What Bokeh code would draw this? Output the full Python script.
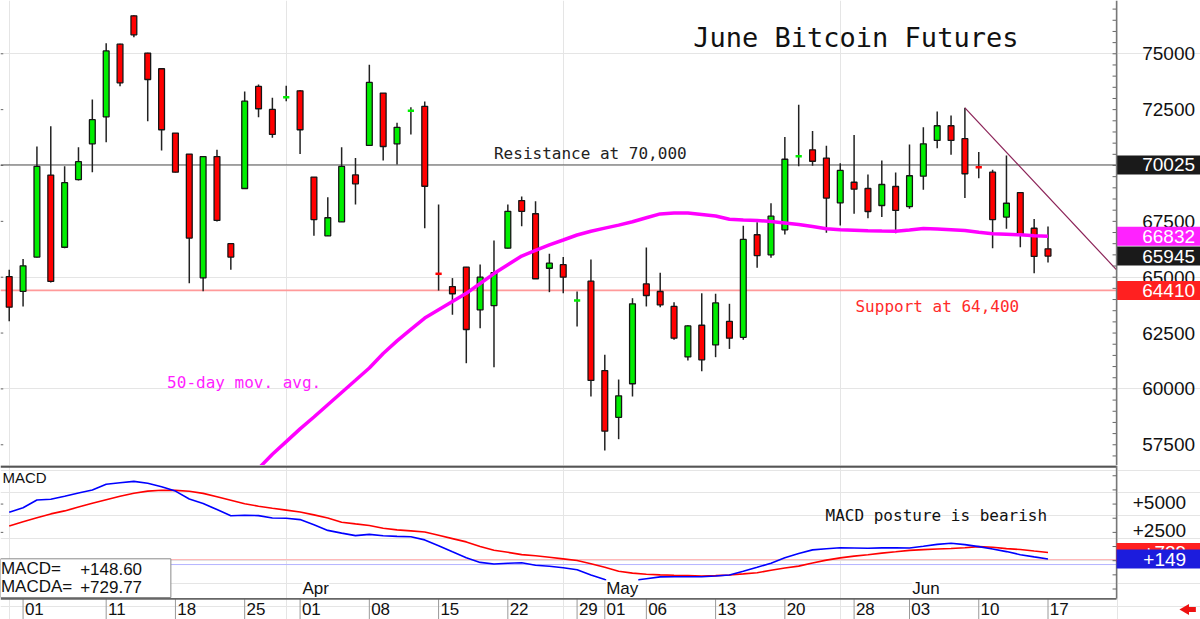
import numpy as np
from bokeh.plotting import figure
from bokeh.models import Range1d, Span
from bokeh.layouts import column
from bokeh.embed import file_html
from bokeh.resources import INLINE
from bokeh.core.properties import value

# ---------------- data ----------------
# trading days Feb 29 .. Jun 17 (index 0 .. 75)
opens = [65030, 64370, 65900, 69570, 66340, 69370, 70970, 72180, 75430, 76700,
         75030, 74330, 71450, 70510, 64970, 70400, 66500, 68970, 73540, 72510,
         73050, 73340, 69480, 66850, 67480, 69580, 70900, 73240, 70970, 72440,
         72650, 65160, 64580, 65450, 63540, 63730, 66300, 68430, 67840, 65400,
         65560, 63950, 64820, 60820, 58730, 60230, 64700, 64360, 63690, 61430,
         62850, 61970, 63020, 62310, 66900, 66000, 67120, 70410, 70700, 70330,
         68330, 69250, 68970, 68210, 69060, 68160, 69520, 71120, 71780, 71200,
         69930, 69700, 67690, 68790, 67190, 66270]
highs = [65330, 65810, 70850, 71760, 69970, 70820, 72950, 75470, 75450, 76720,
         75050, 74350, 71460, 70520, 70410, 70700, 66510, 73310, 73630, 73030,
         73570, 73380, 69490, 68580, 70820, 70340, 74510, 73250, 71910, 72610,
         72860, 68250, 64960, 65460, 65570, 66640, 68250, 68610, 68400, 66050,
         65900, 64360, 65790, 61530, 60420, 64060, 66330, 65200, 63880, 62850,
         64280, 64260, 63810, 67300, 67460, 68310, 71270, 72720, 71540, 70880,
         70100, 71360, 69600, 70220, 69690, 70940, 71710, 72420, 72240, 72580,
         70600, 69810, 70450, 68800, 67600, 67270]
lows = [63030, 63690, 65880, 64760, 66300, 69330, 69700, 71040, 73550, 75740,
        71980, 70670, 69690, 64730, 64370, 67490, 65330, 68950, 72160, 71240,
        72880, 70520, 66850, 66840, 67470, 68250, 70880, 70220, 70040, 71390,
        67190, 64400, 63320, 61150, 62720, 60970, 66290, 67280, 64920, 64330,
        64280, 62790, 59660, 57240, 57750, 59660, 63690, 63660, 62200, 61270,
        60790, 61420, 61790, 62200, 65420, 65870, 66910, 69970, 69990, 66990,
        67310, 67840, 67640, 67690, 66970, 68060, 68910, 70770, 70480, 68540,
        69430, 66300, 67170, 66340, 65180, 65660]
closes = [63660, 65510, 69960, 64810, 69230, 70170, 72050, 75130, 73700, 75850,
          73850, 71600, 69700, 66750, 70400, 67540, 65900, 72880, 72540, 71390,
          73065, 71600, 67580, 67660, 69960, 69180, 73720, 70850, 71710, 72455,
          69070, 65145, 64260, 62660, 65000, 65200, 67950, 67950, 64930, 65630,
          65000, 63965, 60380, 58110, 59690, 63810, 64180, 63760, 62270, 62820,
          61300, 63850, 62270, 66690, 65970, 67730, 70280, 70425, 70190, 68540,
          69780, 68940, 67940, 69150, 67990, 69540, 70970, 71780, 71120, 69630,
          69915, 67580, 68310, 66900, 65930, 65945]

ma50_first_index = 18
ma50 = [56440, 57073, 57641, 58210, 58742, 59293, 59839, 60385, 60935, 61585,
        62149, 62668, 63169, 63541, 63912, 64279, 64718, 65162, 65559, 65948,
        66204, 66445, 66665, 66889, 67059, 67198, 67332, 67484, 67659, 67833,
        67873, 67873, 67806, 67739, 67592, 67565, 67542, 67493, 67430, 67359,
        67269, 67170, 67121, 67103, 67076, 67063, 67059, 67117, 67180, 67153,
        67121, 67090, 67010, 66942, 66920, 66898, 66857, 66832]

macd = [4283, 4671, 5360, 5430, 5695, 5978, 6243, 6755, 6887, 7002,
        6843, 6525, 6146, 5448, 5042, 4512, 3974, 4009, 3982, 3770,
        3753, 3629, 3170, 2675, 2437, 2216, 2322, 2208, 2146, 2119,
        1837, 1325, 786, 256, -150, -291, -230, -185, -397, -494,
        -627, -795, -1263, -1660, -1792, -1748, -1589, -1430, -1413, -1413,
        -1413, -1351, -1263, -936, -583, -221, 256, 627, 954, 1060,
        1148, 1121, 1095, 1130, 1130, 1121, 1272, 1439, 1536, 1422,
        1245, 1033, 804, 530, 336, 148.60]
macd_avg = [3073, 3435, 3788, 4132, 4397, 4733, 5068, 5386, 5687, 5951,
            6146, 6216, 6207, 6128, 5943, 5651, 5342, 5024, 4812, 4636,
            4468, 4300, 4044, 3770, 3391, 3249, 3108, 2861, 2720, 2631,
            2534, 2243, 1951, 1660, 1263, 918, 742, 539, 442, 300,
            159, 18, -274, -583, -936, -1095, -1192, -1254, -1289, -1316,
            -1351, -1316, -1263, -1166, -1060, -848, -645, -477, -203, 53,
            247, 406, 521, 671, 786, 909, 980, 1033, 1077, 1148,
            1245, 1183, 1068, 989, 857, 729.77]

resistance_level = 70025
support_level = 64410
trend_index = [69, 79.95]
trend_price = [72580, 65330]

price_tick_labels = [57500, 60000, 62500, 65000, 67500, 70000, 72500, 75000]
value_boxes = [70025, 66832, 65945, 64410]
value_box_colors = ["#1a1a1a", "#ff22ff", "#1a1a1a", "#ff2020"]

macd_tick_labels = [2500, 5000]
macd_ref_levels = [100, -340]
macd_boxes = [729.77, 148.60]
macd_box_text = ["+729", "+149"]
macd_box_colors = ["#ff2020", "#1c1cdd"]

date_tick_index = [1, 7, 12, 17, 21, 26, 31, 36, 41, 43, 46, 51, 56, 61, 65, 70, 75]
date_tick_labels = ["01", "11", "18", "25", "01", "08", "15", "22", "29", "01",
                    "06", "13", "20", "28", "03", "10", "17"]
month_index = [21.17, 43.1, 65.2]
month_labels = ["Apr", "May", "Jun"]

# ---------------- layout constants ----------------
X0, X1 = -0.63, 86.01          # full canvas width in day units
AXIS_X = 79.95                 # right axis line
GREEN, RED = "#00ee00", "#ff0000"
SANS = value("Liberation Sans")
MONO = value("DejaVu Sans Mono")

xr = Range1d(X0, X1)


def base_fig(h, yr):
    f = figure(width=1200, height=h, x_range=xr, y_range=yr,
               output_backend="svg", toolbar_location=None,
               x_axis_location=None, y_axis_location=None, min_border=0)
    f.outline_line_color = None
    f.background_fill_color = "white"
    f.border_fill_color = "white"
    return f


# ---------------- main price panel ----------------
p1 = base_fig(465, Range1d(56572, 77385))

o, h, l, c = (np.array(a, dtype=float) for a in (opens, highs, lows, closes))
idx = np.arange(len(o))
up = c >= o
doji = np.abs(c - o) < 30
body = ~doji
cols = np.where(up, GREEN, RED)

# reference lines
p1.segment(x0=[X0], y0=[resistance_level], x1=[AXIS_X], y1=[resistance_level],
           line_color="#555555", line_width=1)
p1.segment(x0=[X0], y0=[support_level], x1=[AXIS_X], y1=[support_level],
           line_color="#ff9a9a", line_width=1.6)

# wicks and bodies
p1.segment(x0=idx, y0=l, x1=idx, y1=h, line_color="#222222", line_width=1.5)
p1.quad(left=idx[body] - 0.21, right=idx[body] + 0.21,
        top=np.maximum(o, c)[body], bottom=np.minimum(o, c)[body],
        fill_color=cols[body], line_color="#151515", line_width=1.3)
p1.rect(x=idx[doji], y=((o + c) / 2)[doji], width=0.45, height=2.5,
        height_units="screen", fill_color=cols[doji], line_color=None)

# moving average
ma_idx = np.arange(ma50_first_index, ma50_first_index + len(ma50))
p1.line(ma_idx, ma50, line_color="#ff00ff", line_width=3.5)

# trend line
p1.line(trend_index, trend_price, line_color="#8b2257", line_width=1.2)

# annotations
p1.text(x=[49.39], y=[75751], text=["June Bitcoin Futures"], text_font=MONO,
        text_font_size="27px", text_color="#111111", text_baseline="middle")
p1.text(x=[35.0], y=[70559], text=["Resistance at 70,000"], text_font=MONO,
        text_font_size="16px", text_color="#222222", text_baseline="middle")
p1.text(x=[61.1], y=[63697], text=["Support at 64,400"], text_font=MONO,
        text_font_size="16px", text_color="#ff2a2a", text_baseline="middle")
p1.text(x=[11.4], y=[60278], text=["50-day mov. avg."], text_font=MONO,
        text_font_size="16px", text_color="#ff22ff", text_baseline="middle")

# right axis
p1.add_layout(Span(location=AXIS_X, dimension="height", line_color="#777777", line_width=1.5))
minor = np.arange(57000, 77001, 500)
p1.segment(x0=np.full(len(minor), AXIS_X - 0.29), y0=minor,
           x1=np.full(len(minor), AXIS_X), y1=minor, line_color="#666666", line_width=1)
major = np.arange(57500, 75001, 2500)
p1.segment(x0=np.full(len(major), X0), y0=major,
           x1=np.full(len(major), X0 + 0.2), y1=major, line_color="#666666", line_width=1)
p1.text(x=np.full(len(price_tick_labels), 81.8), y=price_tick_labels,
        text=[str(v) for v in price_tick_labels], text_font=SANS,
        text_font_size="19px", text_color="#111111", text_baseline="middle")
p1.rect(x=np.full(len(value_boxes), (AXIS_X + X1) / 2), y=value_boxes,
        width=X1 - AXIS_X, height=19, height_units="screen",
        fill_color=value_box_colors, line_color=None)
p1.text(x=np.full(len(value_boxes), 81.8), y=value_boxes,
        text=[str(v) for v in value_boxes], text_font=SANS,
        text_font_size="19px", text_color="white", text_baseline="middle")

# ---------------- MACD panel + date row (one canvas, two y scales) ----------------
p2 = base_fig(154, Range1d(-5192, 8406))
p2.extra_y_ranges = {"row": Range1d(0, 154)}   # row units: pixels above the bottom edge

p2.segment(x0=np.full(2, X0), y0=macd_ref_levels, x1=np.full(2, AXIS_X), y1=macd_ref_levels,
           line_color=["#ffb4b4", "#b4b4ff"], line_width=1)
p2.line(idx, macd_avg, line_color="#ff0000", line_width=1.6)
p2.line(idx, macd, line_color="#0000ff", line_width=1.6)

# top border (bottom of price panel)
p2.segment(x0=[X0], y0=[8318], x1=[AXIS_X], y1=[8318], line_color="#555555", line_width=2.5)

# right axis of the MACD panel
p2.segment(x0=[AXIS_X], y0=[21], x1=[AXIS_X], y1=[154], y_range_name="row",
           line_color="#777777", line_width=1.5)
mt = np.arange(-2500, 7501, 1250)
p2.segment(x0=np.full(len(mt), AXIS_X - 0.29), y0=mt, x1=np.full(len(mt), AXIS_X), y1=mt,
           line_color="#666666", line_width=1)
p2.segment(x0=np.full(2, X0), y0=macd_tick_labels, x1=np.full(2, X0 + 0.2), y1=macd_tick_labels,
           line_color="#666666", line_width=1)
p2.text(x=np.full(2, 84.97), y=macd_tick_labels, text=["+%d" % v for v in macd_tick_labels],
        text_font=SANS, text_font_size="19px", text_color="#111111",
        text_baseline="middle", text_align="right", y_offset=-2)

p2.rect(x=[(AXIS_X + X1) / 2], y=[macd_boxes[0]], width=X1 - AXIS_X, height=19,
        height_units="screen", fill_color=macd_box_colors[0], line_color=None)
p2.text(x=[84.97], y=[macd_boxes[0]], text=[macd_box_text[0]], text_font=SANS,
        text_font_size="19px", text_color="white", text_baseline="middle", text_align="right")
p2.rect(x=[(AXIS_X + X1) / 2], y=[macd_boxes[1]], width=X1 - AXIS_X, height=19,
        height_units="screen", fill_color=macd_box_colors[1], line_color=None)
p2.text(x=[84.97], y=[macd_boxes[1]], text=[macd_box_text[1]], text_font=SANS,
        text_font_size="19px", text_color="white", text_baseline="middle", text_align="right")

# value box at lower left
p2.quad(left=[X0], right=[11.67], top=[168], bottom=[-3250],
        fill_color="white", line_color="#8a8a8a", line_width=1)
p2.text(x=[-0.6, -0.6], y=[-689, -2305], text=["MACD=", "MACDA="], text_font=SANS,
        text_font_size="17px", text_color="#111111", text_baseline="middle")
p2.text(x=[5.12, 5.12], y=[-689, -2305], text=["%+.2f" % macd[-1], "%+.2f" % macd_avg[-1]],
        text_font=SANS, text_font_size="17px", text_color="#111111", text_baseline="middle")

p2.text(x=[-0.49], y=[7329], text=["MACD"], text_font=SANS, text_font_size="15px",
        text_color="#111111", text_baseline="middle")
p2.text(x=[58.94], y=[3947], text=["MACD posture is bearish"], text_font=MONO,
        text_font_size="16px", text_color="#111111", text_baseline="middle")
p2.text(x=month_index, y=[-2411] * 3, text=month_labels, text_font=SANS,
        text_font_size="17px", text_color="#111111", text_baseline="middle",
        background_fill_color="white")

# date row
p2.segment(x0=date_tick_index, y0=[0] * len(date_tick_index), x1=date_tick_index,
           y1=[21] * len(date_tick_index), y_range_name="row",
           line_color="#9a9a9a", line_width=1)
p2.segment(x0=[X0], y0=[20.6], x1=[AXIS_X], y1=[20.6], y_range_name="row",
           line_color="#666666", line_width=1.6)
p2.text(x=[t + 0.13 for t in date_tick_index], y=[10.7] * len(date_tick_index),
        y_range_name="row", text=date_tick_labels, text_font=SANS, text_font_size="17px",
        text_color="#111111", text_baseline="middle")
# small red arrow at lower right
p2.scatter(x=[84.95], y=[10], y_range_name="row", marker="triangle", size=11,
           angle=np.pi / 2, fill_color="#ee1111", line_color=None)
p2.rect(x=[85.4], y=[10], y_range_name="row", width=0.55, height=5, height_units="screen",
        fill_color="#ee1111", line_color=None)

layout = column(p1, p2, spacing=0)
open("out.html", "w").write(file_html(layout, INLINE))
